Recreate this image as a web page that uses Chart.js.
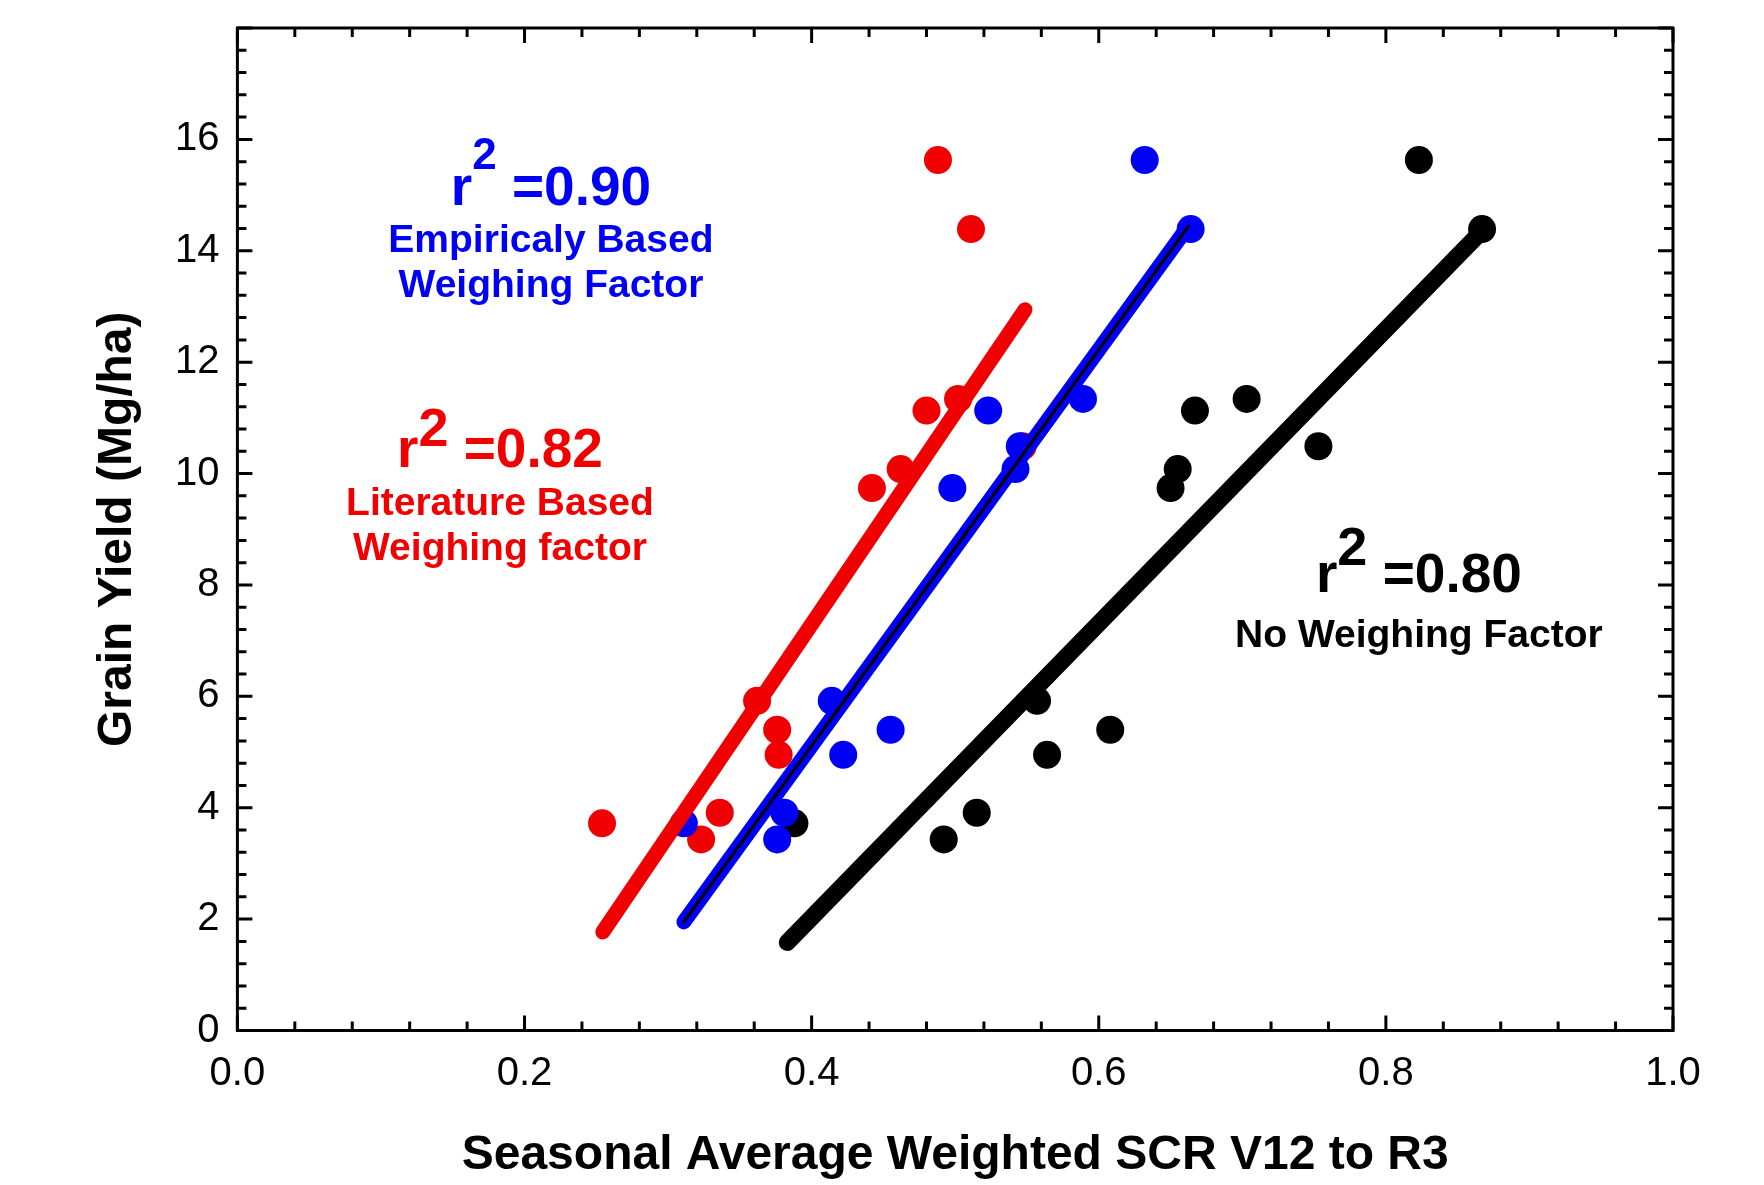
<!DOCTYPE html>
<html>
<head>
<meta charset="utf-8">
<script src="https://cdn.jsdelivr.net/npm/chart.js@4.4.1/dist/chart.umd.min.js"></script>
<style>
  html, body { margin: 0; padding: 0; background: #fff; }
</style>
</head>
<body>
<canvas id="yieldChart" width="1764" height="1185"></canvas>
<script>
// grain yield (Mg/ha) - same site-years for each weighting method
const grainYield = [3.43, 3.72, 3.91, 4.95, 5.40, 5.92, 9.74, 10.08, 10.49, 11.13, 11.34, 14.39, 15.63];

// seasonal average weighted SCR V12 to R3, one array per weighting method
const scrLiterature = [0.323, 0.254, 0.336, 0.377, 0.376, 0.362, 0.442, 0.462, 0.547, 0.480, 0.502, 0.511, 0.488];
const scrEmpirical  = [0.376, 0.311, 0.381, 0.422, 0.455, 0.414, 0.498, 0.542, 0.545, 0.523, 0.589, 0.664, 0.632];
const scrNoWeight   = [0.492, 0.388, 0.515, 0.564, 0.608, 0.557, 0.650, 0.655, 0.753, 0.667, 0.703, 0.867, 0.823];

// regression lines, [x, y] end points
const fitLiterature = [[0.2545, 1.77], [0.5486, 12.94]];
const fitEmpirical  = [[0.311, 1.95], [0.6624, 14.44]];
const fitNoWeight   = [[0.383, 1.58], [0.8656, 14.32]];

const xTicks = [0, 0.2, 0.4, 0.6, 0.8, 1.0];
const yTicks = [0, 2, 4, 6, 8, 10, 12, 14, 16];
const xMinorStep = 0.04;
const yMinorStep = 0.4;

const r2Values = ['=0.90', '=0.82', '=0.80'];
const methodNames = [
    ['Empiricaly Based', 'Weighing Factor'],
    ['Literature Based', 'Weighing factor'],
    ['No Weighing Factor']
];

const RED = '#f00000';
const BLUE = '#0000f5';
const BLACK = '#000000';
const FONT = "'Liberation Sans', Arial, sans-serif";

// where the r2 notes sit (data units) and how they look
const noteLayout = [
    { color: BLUE,  x: 0.2184, y: 14.83, lineY: [13.98, 13.17], supSize: 44, supRise: 36 },
    { color: RED,   x: 0.1829, y: 10.12, lineY: [9.26, 8.45],   supSize: 54, supRise: 21 },
    { color: BLACK, x: 0.8230, y: 7.88,  lineY: [6.89],         supSize: 54, supRise: 27 }
];

const toPoints = (xs) => xs.map((x, i) => ({ x: x, y: grainYield[i] }));
const toLine = (ends) => ends.map(p => ({ x: p[0], y: p[1] }));

const pointSet = (xs, color) => ({
    data: toPoints(xs),
    showLine: false,
    pointRadius: 14,
    pointHoverRadius: 14,
    pointBorderWidth: 0,
    backgroundColor: color,
    borderColor: color
});

const lineSet = (ends, color, width) => ({
    data: toLine(ends),
    showLine: true,
    pointRadius: 0,
    pointHoverRadius: 0,
    borderColor: color,
    backgroundColor: color,
    borderWidth: width,
    borderCapStyle: 'round'
});

// frame and inward tick marks on all four sides
const frameTicks = {
    id: 'frameTicks',
    afterDraw(chart) {
        const { ctx, chartArea: a, scales: { x, y } } = chart;
        ctx.save();
        ctx.strokeStyle = BLACK;
        ctx.lineWidth = 3;
        ctx.beginPath();
        const nx = Math.round((x.max - x.min) / xMinorStep);
        for (let i = 0; i <= nx; i++) {
            const px = x.getPixelForValue(x.min + i * xMinorStep);
            const len = i % 5 === 0 ? 15 : 9;
            ctx.moveTo(px, a.bottom); ctx.lineTo(px, a.bottom - len);
            ctx.moveTo(px, a.top); ctx.lineTo(px, a.top + len);
        }
        const ny = Math.round((y.max - y.min) / yMinorStep);
        for (let i = 0; i <= ny; i++) {
            const py = y.getPixelForValue(y.min + i * yMinorStep);
            const len = i % 5 === 0 ? 15 : 9;
            ctx.moveTo(a.left, py); ctx.lineTo(a.left + len, py);
            ctx.moveTo(a.right, py); ctx.lineTo(a.right - len, py);
        }
        ctx.stroke();
        ctx.strokeRect(a.left, a.top, a.right - a.left, a.bottom - a.top);
        ctx.restore();
    }
};

// r2 notes with superscript 2
const r2Notes = {
    id: 'r2Notes',
    afterDatasetsDraw(chart) {
        const { ctx, scales: { x, y } } = chart;
        ctx.save();
        ctx.textBaseline = 'alphabetic';
        noteLayout.forEach((n, k) => {
            ctx.fillStyle = n.color;
            const cx = x.getPixelForValue(n.x);
            const by = y.getPixelForValue(n.y);
            const mainFont = 'bold 55px ' + FONT;
            const supFont = 'bold ' + n.supSize + 'px ' + FONT;
            ctx.font = mainFont;
            const wr = ctx.measureText('r').width;
            const wRest = ctx.measureText(' ' + r2Values[k]).width;
            ctx.font = supFont;
            const w2 = ctx.measureText('2').width;
            let left = cx - (wr + w2 + wRest) / 2;
            ctx.textAlign = 'left';
            ctx.font = mainFont;
            ctx.fillText('r', left, by);
            ctx.font = supFont;
            ctx.fillText('2', left + wr, by - n.supRise);
            ctx.font = mainFont;
            ctx.fillText(' ' + r2Values[k], left + wr + w2, by);

            ctx.font = 'bold 39px ' + FONT;
            ctx.textAlign = 'center';
            methodNames[k].forEach((t, j) => {
                ctx.fillText(t, cx, y.getPixelForValue(n.lineY[j]));
            });
        });
        ctx.restore();
    }
};

const ctx = document.getElementById('yieldChart').getContext('2d');
new Chart(ctx, {
    type: 'scatter',
    data: {
        datasets: [
            lineSet(fitNoWeight, BLACK, 17),
            lineSet(fitLiterature, RED, 15),
            lineSet(fitEmpirical, BLACK, 3),
            lineSet(fitEmpirical, BLUE, 15),
            pointSet(scrEmpirical, BLUE),
            pointSet(scrLiterature, RED),
            pointSet(scrNoWeight, BLACK)
        ]
    },
    options: {
        responsive: false,
        animation: false,
        devicePixelRatio: 1,
        layout: { padding: { top: 28, right: 91, left: 0, bottom: 0 } },
        plugins: {
            legend: { display: false },
            tooltip: { enabled: false }
        },
        scales: {
            x: {
                type: 'linear',
                position: 'bottom',
                min: 0,
                max: 1,
                grid: { display: false, drawTicks: false },
                border: { display: false },
                afterBuildTicks: (s) => { s.ticks = xTicks.map(v => ({ value: v })); },
                afterFit: (s) => { s.height = 154.5; s.paddingLeft = 0; s.paddingRight = 0; },
                ticks: {
                    color: BLACK,
                    padding: 19,
                    font: { family: FONT, size: 40 },
                    callback: (v) => Number(v).toFixed(1)
                },
                title: {
                    display: true,
                    text: 'Seasonal Average Weighted SCR V12 to R3',
                    color: BLACK,
                    font: { family: FONT, size: 48, weight: 'bold' },
                    padding: { top: 0, bottom: 0 }
                }
            },
            y: {
                type: 'linear',
                min: 0,
                max: 18,
                grid: { display: false, drawTicks: false },
                border: { display: false },
                afterBuildTicks: (s) => { s.ticks = yTicks.map(v => ({ value: v })); },
                afterFit: (s) => { s.width = 237.4; s.paddingTop = 0; s.paddingBottom = 0; },
                ticks: {
                    color: BLACK,
                    padding: 18,
                    font: { family: FONT, size: 40 }
                },
                title: {
                    display: true,
                    text: 'Grain Yield (Mg/ha)',
                    color: BLACK,
                    font: { family: FONT, size: 48, weight: 'bold' },
                    padding: { top: 89, bottom: 0 }
                }
            }
        }
    },
    plugins: [frameTicks, r2Notes]
});
</script>
</body>
</html>
